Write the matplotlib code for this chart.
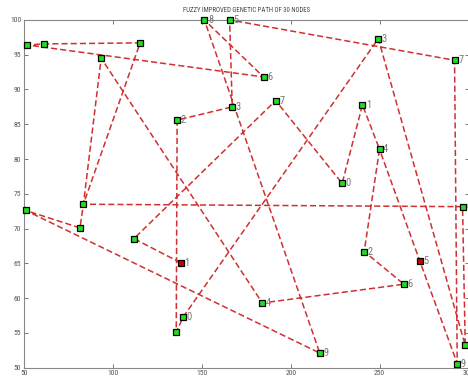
import matplotlib
matplotlib.use("Agg")
import matplotlib.pyplot as plt
from matplotlib import font_manager

# node coordinates
node_x = [51.9, 61.3, 115.3, 93.4, 151.4, 165.6, 167.1, 136.1, 184.7, 191.5,
          249.2, 292.1, 240.3, 249.9, 228.9, 83.4, 51.0, 81.5, 111.8, 138.0,
          139.4, 135.6, 296.6, 241.3, 272.6, 263.6, 184.0, 216.3, 293.6, 298.1]
node_y = [96.4, 96.55, 96.7, 94.5, 100.0, 100.0, 87.5, 85.6, 91.8, 88.4,
          97.3, 94.2, 87.8, 81.4, 76.5, 73.5, 72.6, 70.1, 68.55, 65.1,
          57.25, 55.1, 73.15, 66.7, 65.3, 62.0, 59.3, 52.1, 50.6, 53.2]
# only the last digit of each label shows next to its marker
node_labels = ["", "", "", "", "8", "5", "3", "2", "6", "7",
               "3", "7", "1", "4", "0", "", "", "", "", "1",
               "0", "", "0", "2", "5", "6", "4", "9", "9", "8"]
red_nodes = [19, 24]

# order in which the dashed path visits the nodes
route = [19, 18, 9, 14, 12, 13, 23, 25, 26, 3, 15, 2, 1, 0, 8, 4, 27, 16, 17,
         15, 22, 29, 10, 20, 21, 7, 6, 5, 11, 28, 24, 13]

x_ticks = [50, 100, 150, 200, 250, 300]
y_ticks = [50, 55, 60, 65, 70, 75, 80, 85, 90, 95, 100]

names = {f.name for f in font_manager.fontManager.ttflist}
narrow = next((n for n in ["Liberation Sans Narrow", "Roboto Condensed"] if n in names),
              "DejaVu Sans")

fig = plt.figure(figsize=(4.68, 3.83), dpi=100)
ax = fig.add_axes([0.0513, 0.040, 0.95, 0.908])

ax.plot([node_x[i] for i in route], [node_y[i] for i in route],
        color="#d03030", lw=1.1, linestyle=(0, (4, 2)), zorder=2)

for i in range(len(node_x)):
    fc = "#cc0000" if i in red_nodes else "#22dd22"
    ax.plot(node_x[i], node_y[i], marker="s", markersize=4.6,
            markerfacecolor=fc, markeredgecolor="black", markeredgewidth=0.9,
            zorder=4, clip_on=False)
    if node_labels[i]:
        ax.annotate(node_labels[i], (node_x[i], node_y[i]), xytext=(2.6, 0),
                    textcoords="offset points", ha="left", va="center",
                    fontsize=7.5, color="#777777", family=narrow,
                    annotation_clip=False, zorder=3)

ax.set_xlim(50, 300)
ax.set_ylim(50, 100)
ax.set_xticks(x_ticks)
ax.set_yticks(y_ticks)
ax.tick_params(direction="in", length=3, width=0.7, colors="#777777",
               labelsize=5.5, labelcolor="#555555", top=True, right=True, pad=2)
for lbl in ax.get_xticklabels() + ax.get_yticklabels():
    lbl.set_family(narrow)
for sp in ax.spines.values():
    sp.set_color("#888888")
    sp.set_linewidth(0.8)

ax.set_title("FUZZY IMPROVED GENETIC PATH OF 30 NODES", fontsize=4.9,
             family=narrow, color="#444444", pad=5.5)

fig.savefig("out.png", dpi=100)
